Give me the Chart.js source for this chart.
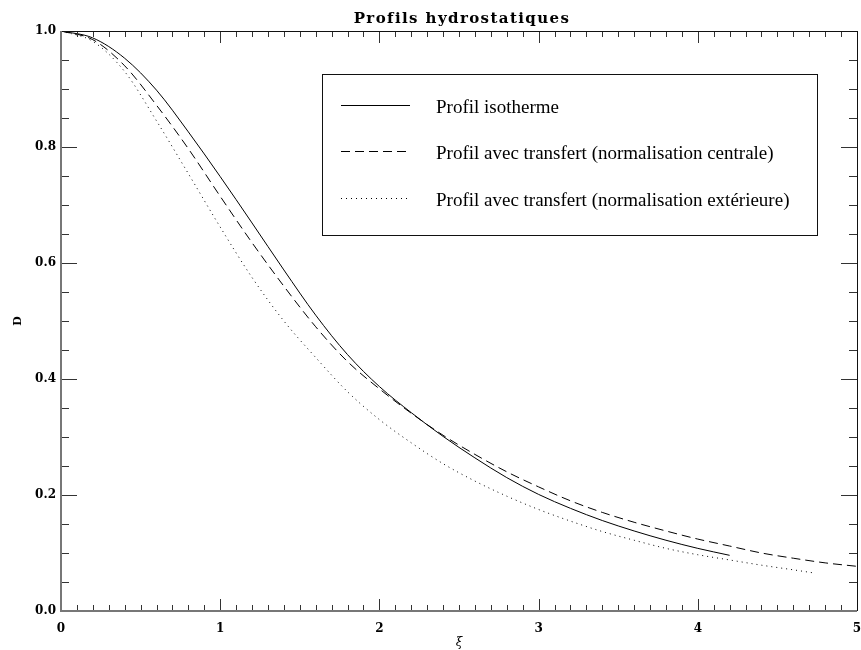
<!DOCTYPE html>
<html>
<head>
<meta charset="utf-8">
<script src="https://cdn.jsdelivr.net/npm/chart.js@4.4.1/dist/chart.umd.min.js"></script>
<style>
  html, body { margin: 0; padding: 0; background: #fff; }
  #wrap { width: 861px; height: 650px; }
</style>
</head>
<body>
<div id="wrap"><canvas id="profils" width="861" height="650"></canvas></div>
<script>
// values
const titleText = "Profils hydrostatiques";
const seriesLabels = [
  "Profil isotherme",
  "Profil avec transfert (normalisation centrale)",
  "Profil avec transfert (normalisation extérieure)",
];

const xiIso = [0, 0.2, 0.4, 0.6, 0.8, 1.0, 1.2, 1.4, 1.6, 1.8, 2.0, 2.2, 2.4, 2.6, 2.8, 3.0, 3.2, 3.4, 3.6, 3.8, 4.0, 4.2];
const dIso = [1.0, 0.988, 0.953, 0.898, 0.826, 0.749, 0.669, 0.588, 0.510, 0.442, 0.387, 0.342, 0.301, 0.264, 0.230, 0.201, 0.177, 0.156, 0.138, 0.122, 0.108, 0.096];

const xiCentrale = [0, 0.2, 0.4, 0.6, 0.8, 1.0, 1.2, 1.4, 1.6, 1.8, 2.0, 2.2, 2.4, 2.6, 2.8, 3.0, 3.2, 3.4, 3.6, 3.8, 4.0, 4.2, 4.4, 4.6, 4.8, 5.0];
const dCentrale = [1.0, 0.985, 0.940, 0.872, 0.797, 0.715, 0.635, 0.560, 0.490, 0.430, 0.383, 0.341, 0.303, 0.270, 0.240, 0.214, 0.190, 0.170, 0.153, 0.138, 0.124, 0.112, 0.100, 0.091, 0.083, 0.077];

const xiExterieure = [0, 0.2, 0.4, 0.6, 0.8, 1.0, 1.2, 1.4, 1.6, 1.8, 2.0, 2.2, 2.4, 2.6, 2.8, 3.0, 3.2, 3.4, 3.6, 3.8, 4.0, 4.2, 4.4, 4.6, 4.72];
const dExterieure = [1.0, 0.982, 0.930, 0.845, 0.754, 0.662, 0.575, 0.500, 0.437, 0.378, 0.330, 0.290, 0.254, 0.224, 0.198, 0.175, 0.155, 0.137, 0.122, 0.108, 0.097, 0.088, 0.079, 0.071, 0.066];

const xTicks = [0, 1, 2, 3, 4, 5];
const yTicks = [0.0, 0.2, 0.4, 0.6, 0.8, 1.0];

function toPoints(xs, ys) {
  return xs.map((x, i) => ({ x: x, y: ys[i] }));
}

// title with a bit of letter spacing, like the IDL font
const titlePlugin = {
  id: "plotTitle",
  afterDraw(chart) {
    const ctx = chart.ctx;
    const area = chart.chartArea;
    ctx.save();
    ctx.font = "bold 15px 'DejaVu Serif'";
    ctx.letterSpacing = "1.4px";
    ctx.fillStyle = "#000";
    ctx.textAlign = "center";
    ctx.textBaseline = "alphabetic";
    ctx.fillText(titleText, (area.left + area.right) / 2 + 3, 23);
    ctx.restore();
  },
};

// frame and inward ticks on all four sides
const framePlugin = {
  id: "frame",
  afterDraw(chart) {
    const ctx = chart.ctx;
    const a = chart.chartArea;
    const xs = chart.scales.x;
    const ys = chart.scales.y;
    ctx.save();
    ctx.strokeStyle = "#333";
    ctx.lineWidth = 1;
    ctx.beginPath();
    for (let i = 0; i <= 50; i++) {
      const v = i / 10;
      const px = Math.round(xs.getPixelForValue(v)) + 0.5;
      const len = i % 10 === 0 ? 12 : 6;
      ctx.moveTo(px, a.bottom);
      ctx.lineTo(px, a.bottom - len);
      ctx.moveTo(px, a.top);
      ctx.lineTo(px, a.top + len);
    }
    for (let i = 0; i <= 20; i++) {
      const v = i / 20;
      const py = Math.round(ys.getPixelForValue(v)) + 0.5;
      const len = i % 4 === 0 ? 16 : 8;
      ctx.moveTo(a.left, py);
      ctx.lineTo(a.left + len, py);
      ctx.moveTo(a.right, py);
      ctx.lineTo(a.right - len, py);
    }
    ctx.stroke();

    ctx.strokeStyle = "#111";
    ctx.beginPath();
    ctx.moveTo(a.left, a.top + 0.5);
    ctx.lineTo(a.right, a.top + 0.5);
    ctx.moveTo(a.right + 0.5, a.top);
    ctx.lineTo(a.right + 0.5, a.bottom);
    ctx.stroke();

    ctx.strokeStyle = "#777";
    ctx.lineWidth = 2;
    ctx.beginPath();
    ctx.moveTo(a.left, a.top);
    ctx.lineTo(a.left, a.bottom);
    ctx.lineTo(a.right, a.bottom);
    ctx.stroke();
    ctx.restore();
  },
};

// boxed legend in the upper right of the plot
const legendPlugin = {
  id: "boxLegend",
  afterDraw(chart) {
    const ctx = chart.ctx;
    const a = chart.chartArea;
    const left = a.left + 261;
    const top = a.top + 43;
    const w = 495;
    const h = 161;
    ctx.save();
    ctx.strokeStyle = "#111";
    ctx.lineWidth = 1;
    ctx.strokeRect(left + 0.5, top + 0.5, w, h);
    ctx.font = "19px 'Liberation Serif'";
    ctx.fillStyle = "#000";
    ctx.textAlign = "left";
    ctx.textBaseline = "alphabetic";
    const rowY = [30.5, 77, 123.5];
    chart.data.datasets.forEach((ds, i) => {
      const y = Math.round(top + rowY[i]) + 0.5;
      ctx.strokeStyle = "#000";
      ctx.setLineDash(ds.borderDash || []);
      ctx.beginPath();
      ctx.moveTo(left + 19, y);
      ctx.lineTo(left + 88, y);
      ctx.stroke();
      ctx.setLineDash([]);
      ctx.fillText(ds.label, left + 114, y + 7.5);
    });
    ctx.restore();
  },
};

const serif = "'DejaVu Serif'";

new Chart(document.getElementById("profils"), {
  type: "line",
  data: {
    datasets: [
      {
        label: seriesLabels[0],
        data: toPoints(xiIso, dIso),
        borderColor: "#000",
        borderWidth: 1,
        pointRadius: 0,
        cubicInterpolationMode: "monotone",
      },
      {
        label: seriesLabels[1],
        data: toPoints(xiCentrale, dCentrale),
        borderColor: "#000",
        borderWidth: 1,
        borderDash: [9, 5],
        pointRadius: 0,
        cubicInterpolationMode: "monotone",
      },
      {
        label: seriesLabels[2],
        data: toPoints(xiExterieure, dExterieure),
        borderColor: "#000",
        borderWidth: 1,
        borderDash: [1, 4],
        pointRadius: 0,
        cubicInterpolationMode: "monotone",
      },
    ],
  },
  options: {
    responsive: false,
    animation: false,
    events: [],
    layout: { padding: { top: 31, right: 4, left: 0, bottom: 0 } },
    plugins: {
      legend: { display: false },
      tooltip: { enabled: false },
      title: { display: false },
    },
    scales: {
      x: {
        type: "linear",
        min: 0,
        max: 5,
        afterBuildTicks(scale) {
          scale.ticks = xTicks.map((v) => ({ value: v }));
        },
        ticks: {
          color: "#000",
          font: { family: serif, size: 12, weight: "bold" },
          padding: 11,
          maxRotation: 0,
          callback: (v) => String(v),
        },
        grid: { display: false, drawTicks: false },
        border: { display: false },
        title: {
          display: true,
          text: "ξ",
          color: "#000",
          font: { family: serif, size: 12, style: "italic" },
          padding: { top: 0, bottom: 0 },
        },
        afterFit(scale) {
          scale.height = 39;
          scale.paddingLeft = 0;
          scale.paddingRight = 0;
        },
      },
      y: {
        type: "linear",
        min: 0,
        max: 1,
        afterBuildTicks(scale) {
          scale.ticks = yTicks.map((v) => ({ value: v }));
        },
        ticks: {
          color: "#000",
          font: { family: serif, size: 12, weight: "bold" },
          padding: 5,
          callback: (v) => v.toFixed(1),
        },
        grid: { display: false, drawTicks: false },
        border: { display: false },
        title: {
          display: true,
          text: "D",
          color: "#000",
          font: { family: serif, size: 11, weight: "bold" },
          padding: { top: 12, bottom: 0 },
        },
        afterFit(scale) {
          scale.width = 61;
          scale.paddingTop = 0;
          scale.paddingBottom = 0;
        },
      },
    },
  },
  plugins: [titlePlugin, framePlugin, legendPlugin],
});
</script>
</body>
</html>
